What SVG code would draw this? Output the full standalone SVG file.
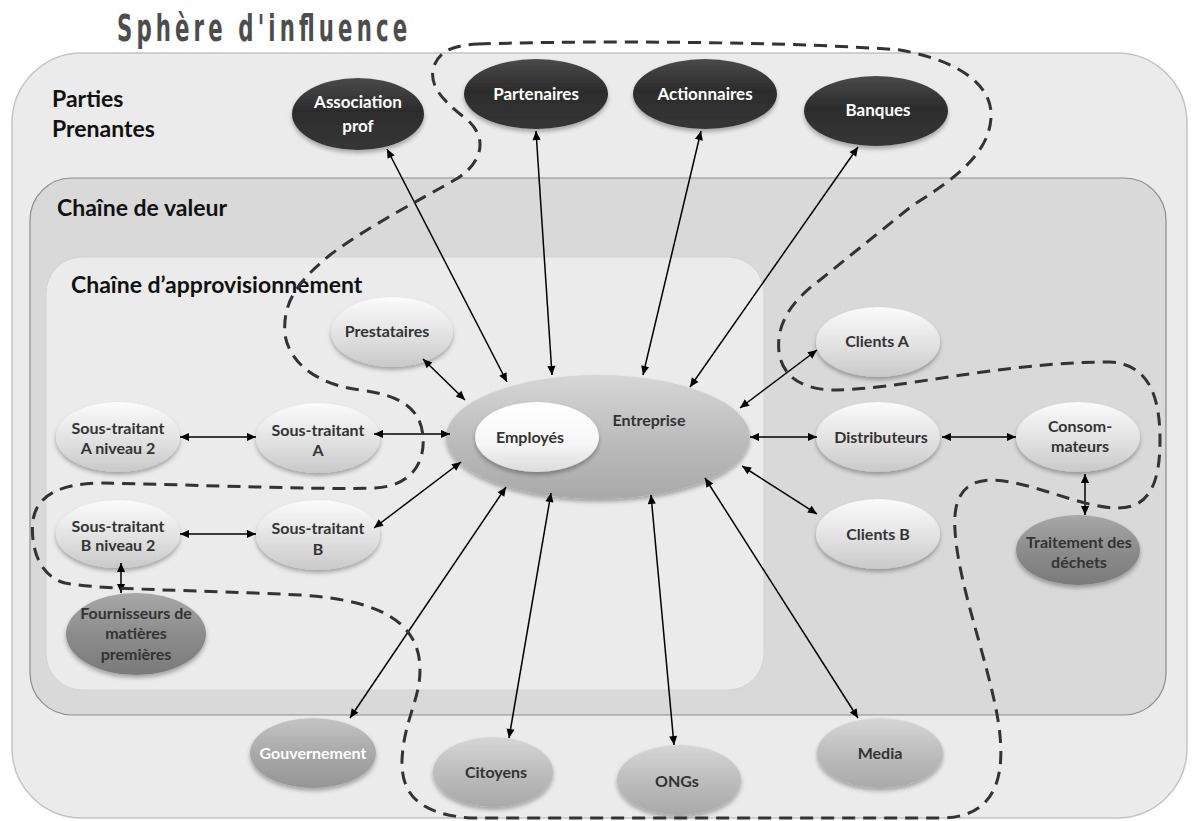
<svg xmlns="http://www.w3.org/2000/svg" width="1192" height="821" viewBox="0 0 1192 821">
<defs>
<style>
.t{font-family:Lato,"Liberation Sans",sans-serif;font-weight:700;font-size:16px;text-anchor:middle;fill:#333}
.tw{fill:#fff}
.big{font-size:17px}
.lbl{font-family:Lato,"Liberation Sans",sans-serif;font-weight:700;fill:#111;font-size:23px}
.con line{stroke:#000;stroke-width:1.5;marker-start:url(#ah);marker-end:url(#ah)}
.node ellipse{filter:url(#sh)}
</style>
<filter id="sh" x="-20%" y="-20%" width="140%" height="150%"><feDropShadow dx="0" dy="3" stdDeviation="2" flood-color="#000" flood-opacity="0.3"/></filter>
<linearGradient id="gLight" x1="0" y1="0" x2="0" y2="1"><stop offset="0" stop-color="#fbfbfb"/><stop offset="0.5" stop-color="#e4e4e4"/><stop offset="1" stop-color="#c9c9c9"/></linearGradient>
<linearGradient id="gWhite" x1="0" y1="0" x2="0" y2="1"><stop offset="0" stop-color="#ffffff"/><stop offset="0.6" stop-color="#f6f6f6"/><stop offset="1" stop-color="#dcdcdc"/></linearGradient>
<linearGradient id="gMid" x1="0" y1="0" x2="0" y2="1"><stop offset="0" stop-color="#d6d6d6"/><stop offset="0.5" stop-color="#bdbdbd"/><stop offset="1" stop-color="#a9a9a9"/></linearGradient>
<linearGradient id="gGov" x1="0" y1="0" x2="0" y2="1"><stop offset="0" stop-color="#c4c4c4"/><stop offset="0.5" stop-color="#a9a9a9"/><stop offset="1" stop-color="#959595"/></linearGradient>
<linearGradient id="gDark" x1="0" y1="0" x2="0" y2="1"><stop offset="0" stop-color="#a8a8a8"/><stop offset="0.5" stop-color="#8c8c8c"/><stop offset="1" stop-color="#7a7a7a"/></linearGradient>
<linearGradient id="gBlack" x1="0" y1="0" x2="0" y2="1"><stop offset="0" stop-color="#4a4a4a"/><stop offset="0.45" stop-color="#2c2c2c"/><stop offset="1" stop-color="#363636"/></linearGradient>
<marker id="ah" viewBox="0 0 10 10" refX="10" refY="5" markerWidth="10" markerHeight="9" markerUnits="userSpaceOnUse" orient="auto-start-reverse"><path d="M0,0.5 L10,5 L0,9.5 z" fill="#000"/></marker>
</defs>
<rect width="1192" height="821" fill="#ffffff"/>
<text transform="translate(117,41) scale(0.56,1)" font-family="'DejaVu Sans','Liberation Sans',sans-serif" font-weight="700" font-size="38" fill="#4d4d4d" textLength="518" lengthAdjust="spacing">Sphère d'influence</text>
<g id="zones">
<rect x="12" y="53" width="1175" height="765" rx="70" fill="#ebebeb" stroke="#c4c4c4" stroke-width="1.5"/>
<rect x="30" y="178" width="1136" height="537" rx="42" fill="#d9d9d9" stroke="#8c8c8c" stroke-width="1.2"/>
<rect x="46" y="257" width="718" height="433" rx="36" fill="#ebebeb" stroke="#d2d2d2" stroke-width="1"/>
<text class="lbl" x="52" y="107">Parties</text>
<text class="lbl" x="52" y="137">Prenantes</text>
<text class="lbl" x="57" y="216">Chaîne de valeur</text>
<text class="lbl" x="71" y="293">Chaîne d’approvisionnement</text>
</g>
<g id="n-association" class="node"><ellipse cx="358" cy="114" rx="66" ry="36" fill="url(#gBlack)"/><text class="t tw big" x="358" y="108">Association</text><text class="t tw big" x="358" y="132">prof</text></g>
<g id="n-partenaires" class="node"><ellipse cx="536" cy="94" rx="72" ry="35" fill="url(#gBlack)"/><text class="t tw big" x="536" y="100">Partenaires</text></g>
<g id="n-actionnaires" class="node"><ellipse cx="705" cy="94" rx="72" ry="35" fill="url(#gBlack)"/><text class="t tw big" x="705" y="100">Actionnaires</text></g>
<g id="n-banques" class="node"><ellipse cx="876" cy="111" rx="72" ry="35" fill="url(#gBlack)"/><text class="t tw big" x="878" y="116">Banques</text></g>
<g id="n-prestataires" class="node"><ellipse cx="392" cy="332" rx="61" ry="35" fill="url(#gLight)"/><text class="t" x="387" y="337">Prestataires</text></g>
<g id="n-entreprise" class="node"><ellipse cx="598" cy="437" rx="152" ry="62" fill="url(#gMid)"/><text class="t" x="649" y="426" font-size="18.5">Entreprise</text></g>
<g id="n-employes" class="node"><ellipse cx="537" cy="437" rx="62" ry="35" fill="url(#gWhite)"/><text class="t" x="530" y="443">Employés</text></g>
<g id="n-sta2" class="node"><ellipse cx="118" cy="437" rx="62" ry="35" fill="url(#gLight)"/><text class="t" x="118" y="434">Sous-traitant</text><text class="t" x="118" y="454">A niveau 2</text></g>
<g id="n-sta" class="node"><ellipse cx="318" cy="438" rx="62" ry="35" fill="url(#gLight)"/><text class="t" x="318" y="436">Sous-traitant</text><text class="t" x="318" y="456">A</text></g>
<g id="n-stb2" class="node"><ellipse cx="118" cy="534" rx="62" ry="34" fill="url(#gLight)"/><text class="t" x="118" y="532">Sous-traitant</text><text class="t" x="118" y="551">B niveau 2</text></g>
<g id="n-stb" class="node"><ellipse cx="318" cy="535" rx="62" ry="35" fill="url(#gLight)"/><text class="t" x="318" y="534">Sous-traitant</text><text class="t" x="318" y="555">B</text></g>
<g id="n-fournisseurs" class="node"><ellipse cx="136" cy="634" rx="70" ry="41" fill="url(#gDark)"/><text class="t" x="136" y="619">Fournisseurs de</text><text class="t" x="136" y="639">matières</text><text class="t" x="136" y="660">premières</text></g>
<g id="n-clientsa" class="node"><ellipse cx="878" cy="342" rx="62" ry="35" fill="url(#gLight)"/><text class="t" x="877" y="347">Clients A</text></g>
<g id="n-distributeurs" class="node"><ellipse cx="878" cy="437" rx="62" ry="35" fill="url(#gLight)"/><text class="t" x="881" y="443">Distributeurs</text></g>
<g id="n-clientsb" class="node"><ellipse cx="878" cy="534" rx="62" ry="35" fill="url(#gLight)"/><text class="t" x="878" y="540">Clients B</text></g>
<g id="n-consommateurs" class="node"><ellipse cx="1078" cy="437" rx="62" ry="35" fill="url(#gLight)"/><text class="t" x="1080" y="432">Consom-</text><text class="t" x="1080" y="452">mateurs</text></g>
<g id="n-traitement" class="node"><ellipse cx="1078" cy="550" rx="62" ry="35" fill="url(#gDark)"/><text class="t" x="1079" y="548">Traitement des</text><text class="t" x="1079" y="568">déchets</text></g>
<g id="n-gouvernement" class="node"><ellipse cx="313" cy="753" rx="63" ry="35" fill="url(#gGov)"/><text class="t tw" x="313" y="759">Gouvernement</text></g>
<g id="n-citoyens" class="node"><ellipse cx="493" cy="772" rx="60" ry="35" fill="url(#gMid)"/><text class="t" x="496" y="778">Citoyens</text></g>
<g id="n-ongs" class="node"><ellipse cx="679" cy="780" rx="62" ry="35" fill="url(#gMid)"/><text class="t" x="677" y="787">ONGs</text></g>
<g id="n-media" class="node"><ellipse cx="880" cy="753" rx="63" ry="35" fill="url(#gMid)"/><text class="t" x="880" y="759">Media</text></g>
<g id="connectors" class="con">
<line x1="387" y1="149" x2="507" y2="382"/>
<line x1="536" y1="131" x2="552" y2="375"/>
<line x1="701" y1="131" x2="643" y2="375"/>
<line x1="858" y1="147" x2="690" y2="387"/>
<line x1="423" y1="359" x2="465" y2="400"/>
<line x1="374" y1="434" x2="450" y2="434"/>
<line x1="374" y1="528" x2="461" y2="462"/>
<line x1="180" y1="437" x2="256" y2="437"/>
<line x1="180" y1="534" x2="256" y2="534"/>
<line x1="121" y1="563" x2="121" y2="593"/>
<line x1="740" y1="408" x2="817" y2="350"/>
<line x1="750" y1="437" x2="817" y2="437"/>
<line x1="742" y1="466" x2="817" y2="514"/>
<line x1="942" y1="437" x2="1016" y2="437"/>
<line x1="1085" y1="474" x2="1085" y2="515"/>
<line x1="506" y1="487" x2="350" y2="718"/>
<line x1="551" y1="493" x2="509" y2="738"/>
<line x1="651" y1="495" x2="674" y2="745"/>
<line x1="705" y1="478" x2="858" y2="718"/>
</g>
<g id="sphere">
<path d="M 478,44 C 600,40 800,42 900,50 C 965,62 993,88 991,118 C 989,150 962,175 913,205 L 820,280 C 790,302 776,325 779,352 C 782,375 800,389 832,390 C 900,390 1000,362 1110,362 C 1148,364 1160,395 1160,440 C 1160,482 1150,508 1118,508 C 1080,508 1030,480 990,480 C 962,481 953,500 955,530 C 958,585 988,660 998,720 C 1006,770 1000,815 945,818 L 470,818 C 420,814 401,795 402,760 C 404,720 420,700 420,670 C 420,622 380,600 300,595 C 200,590 100,590 65,583 C 38,576 30,545 33,520 C 37,495 60,484 100,483 C 200,485 330,490 375,488 C 412,486 425,462 423,437 C 421,408 400,395 360,390 C 320,385 290,365 285,335 C 282,300 300,280 330,255 C 370,225 420,200 458,178 C 485,160 487,135 465,118 C 442,100 428,85 434,66 C 440,50 455,45 478,44 Z" fill="none" stroke="#333" stroke-width="3" stroke-dasharray="13,8"/>
</g>
</svg>
